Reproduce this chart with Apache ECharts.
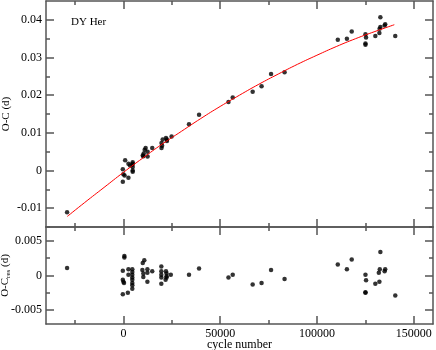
<!DOCTYPE html>
<html>
<head>
<meta charset="utf-8">
<script src="https://cdn.jsdelivr.net/npm/echarts@6/dist/echarts.min.js"></script>
<style>
  html, body { margin: 0; padding: 0; background: #fff; }
</style>
</head>
<body>
<div id="myChart" style="width: 436px; height: 350px;"></div>
<script>
// O-C values (days) vs cycle number
var topCycle = [-29100, -300, -300, 900, 0, 600, 2600, 2600, 3400, 4800, 4800, 4800, 4800, 4800, 4600,
  10000, 10500, 11000, 11500, 12500, 12500, 10300, 14900,
  19700, 19700, 20000, 20300, 22000, 22500, 22500, 24900, 33900, 39100,
  54300, 56500, 66800, 71400, 76300, 83300,
  110800, 115500, 118000, 125100, 125400, 125100, 125100, 130200, 132300, 132400, 132800, 132800, 135000, 135300, 140500];
var topOC = [-0.0111, 0.0003, -0.0030, 0.0027, -0.0010, -0.0013, 0.0018, -0.0019, 0.0013, 0.0022, 0.0018, 0.0009, 0.0000, -0.0003, 0.0015,
  0.0040, 0.0045, 0.0055, 0.0060, 0.0050, 0.0037, 0.0038, 0.0060,
  0.0073, 0.0060, 0.0066, 0.0082, 0.0086, 0.0082, 0.0078, 0.0090, 0.0123, 0.0148,
  0.0182, 0.0194, 0.0209, 0.0224, 0.0256, 0.0261,
  0.0347, 0.0350, 0.0369, 0.0362, 0.0353, 0.0337, 0.0334, 0.0357, 0.0365, 0.0376, 0.0381, 0.0407, 0.0385, 0.0388, 0.0357];

// fitted curve (red), read at a few cycle numbers
var fitCycle = [-29000, -20000, -10000, 0, 10000, 20000, 30000, 40000, 50000, 60000, 70000, 80000, 90000, 100000, 110000, 120000, 130000, 140000];
var fitOC = [-0.0122, -0.0085, -0.0045, -0.0005, 0.0033, 0.0070, 0.0104, 0.0138, 0.0170, 0.0200, 0.0229, 0.0256, 0.0282, 0.0306, 0.0329, 0.0350, 0.0369, 0.0387];

// residuals
var resCycle = [-29100,
  500, 500, -300, -300, 0, 300, -300, 2300, 2600, 2600, 4600, 4600, 4600, 4600, 4600, 4600, 4600, 4600,
  10000, 10800, 9800, 10300, 10300, 12400, 12400, 12400, 14900,
  19600, 19600, 19600, 19600, 19600, 22000, 22300, 22300, 22300, 21800, 24500, 33900, 39100,
  54300, 56500, 66800, 71400, 76300, 83300,
  110800, 115500, 118000, 125100, 125400, 125100, 125100, 130200, 132300, 132000, 132500, 132800, 135000, 135300, 140500];
var resOC = [0.0011,
  0.0028, 0.0026, 0.0007, -0.0006, -0.0009, -0.0011, -0.0027, -0.0025, 0.0009, 0.0001, 0.0009, 0.0005, 0.0001, -0.0003, -0.0006, -0.0011, -0.0014, -0.0019,
  0.0018, 0.0022, 0.0008, 0.0003, -0.0002, 0.0009, 0.0004, -0.0009, 0.0006,
  0.0013, 0.0006, 0.0001, -0.0003, -0.0012, 0.0006, 0.0003, -0.0001, -0.0003, -0.0006, 0.0001, 0.0001, 0.0010,
  -0.0003, 0.0001, -0.0013, -0.0011, 0.0008, -0.0005,
  0.0016, 0.0009, 0.0023, 0.0001, -0.0007, -0.0024, -0.0025, -0.0012, -0.0009, 0.0004, 0.0009, 0.0034, 0.0006, 0.0009, -0.0029];

// tick positions
var xMajor = [0, 50000, 100000, 150000];
var xMinor = [-25000, 25000, 75000, 125000];
var yTopMajor = [-0.01, 0, 0.01, 0.02, 0.03, 0.04];
var yTopMinor = [-0.015, -0.005, 0.005, 0.015, 0.025, 0.035];
var yResMajor = [-0.005, 0, 0.005];
var yResMinor = [-0.0025, 0.0025];

function zip(a, b) {
  return a.map(function (v, i) { return [v, b[i]]; });
}

var font = "Liberation Serif";
var lineColor = "#555";

function makeAxis(grid, pos, min, max, ticks, len, withLine, withLabels) {
  return {
    type: "value",
    gridIndex: grid,
    position: pos,
    min: min,
    max: max,
    nameMoveOverlap: false,
    axisLine: { show: withLine, onZero: false, lineStyle: { color: lineColor, width: 1.5 } },
    axisTick: { show: true, inside: true, length: len, customValues: ticks, lineStyle: { color: lineColor, width: 1.5 } },
    axisLabel: {
      show: withLabels,
      customValues: ticks,
      fontFamily: font,
      fontSize: 12,
      color: "#000",
      margin: 4,
      formatter: function (v) { return String(v); }
    },
    splitLine: { show: false }
  };
}

var xAxes = [];
var yAxes = [];
[0, 1].forEach(function (g) {
  xAxes.push(makeAxis(g, "bottom", -40000, 160000, xMajor, 8, true, g === 1));
  xAxes.push(makeAxis(g, "bottom", -40000, 160000, xMinor, 4, false, false));
  xAxes.push(makeAxis(g, "top", -40000, 160000, xMajor, 8, true, false));
  xAxes.push(makeAxis(g, "top", -40000, 160000, xMinor, 4, false, false));
});
yAxes.push(makeAxis(0, "left", -0.015, 0.045, yTopMajor, 8, true, true));
yAxes.push(makeAxis(0, "left", -0.015, 0.045, yTopMinor, 4, false, false));
yAxes.push(makeAxis(0, "right", -0.015, 0.045, yTopMajor, 8, true, false));
yAxes.push(makeAxis(0, "right", -0.015, 0.045, yTopMinor, 4, false, false));
yAxes.push(makeAxis(1, "left", -0.007, 0.007, yResMajor, 8, true, true));
yAxes.push(makeAxis(1, "left", -0.007, 0.007, yResMinor, 4, false, false));
yAxes.push(makeAxis(1, "right", -0.007, 0.007, yResMajor, 8, true, false));
yAxes.push(makeAxis(1, "right", -0.007, 0.007, yResMinor, 4, false, false));

xAxes[4].name = "cycle number";
xAxes[4].nameLocation = "middle";
xAxes[4].nameGap = 15;
xAxes[4].nameTextStyle = { fontFamily: font, fontSize: 12, color: "#000" };

yAxes[0].name = "O-C (d)";
yAxes[0].nameLocation = "middle";
yAxes[0].nameGap = 34;
yAxes[0].nameTextStyle = { fontFamily: font, fontSize: 11, color: "#000" };

yAxes[4].name = "O-C{sub|res} (d)";
yAxes[4].nameLocation = "middle";
yAxes[4].nameGap = 34;
yAxes[4].nameTextStyle = {
  fontFamily: font, fontSize: 11, color: "#000",
  rich: {
    sub: { fontFamily: font, fontSize: 7, color: "#000", verticalAlign: "bottom", padding: [6, 0, 0, 0] }
  }
};

var myChart = echarts.init(document.getElementById("myChart"));
myChart.setOption({
  animation: false,
  backgroundColor: "#fff",
  title: {
    text: "DY Her",
    left: 66,
    top: 12,
    textStyle: { fontFamily: font, fontSize: 11, fontWeight: "normal", color: "#000" }
  },
  grid: [
    { left: 46, right: 3, top: 1, height: 226, outerBoundsMode: "none" },
    { left: 46, right: 3, top: 227, height: 97, outerBoundsMode: "none" }
  ],
  xAxis: xAxes,
  yAxis: yAxes,
  series: [
    {
      name: "fit",
      type: "line",
      xAxisIndex: 0,
      yAxisIndex: 0,
      data: zip(fitCycle, fitOC),
      smooth: true,
      showSymbol: false,
      lineStyle: { color: "#ff0000", width: 1 }
    },
    {
      name: "O-C",
      type: "scatter",
      xAxisIndex: 0,
      yAxisIndex: 0,
      data: zip(topCycle, topOC),
      symbolSize: 4.5,
      itemStyle: { color: "#000" }
    },
    {
      name: "O-C res",
      type: "scatter",
      xAxisIndex: 4,
      yAxisIndex: 4,
      data: zip(resCycle, resOC),
      symbolSize: 4.5,
      itemStyle: { color: "#000" }
    }
  ]
});
</script>
</body>
</html>
